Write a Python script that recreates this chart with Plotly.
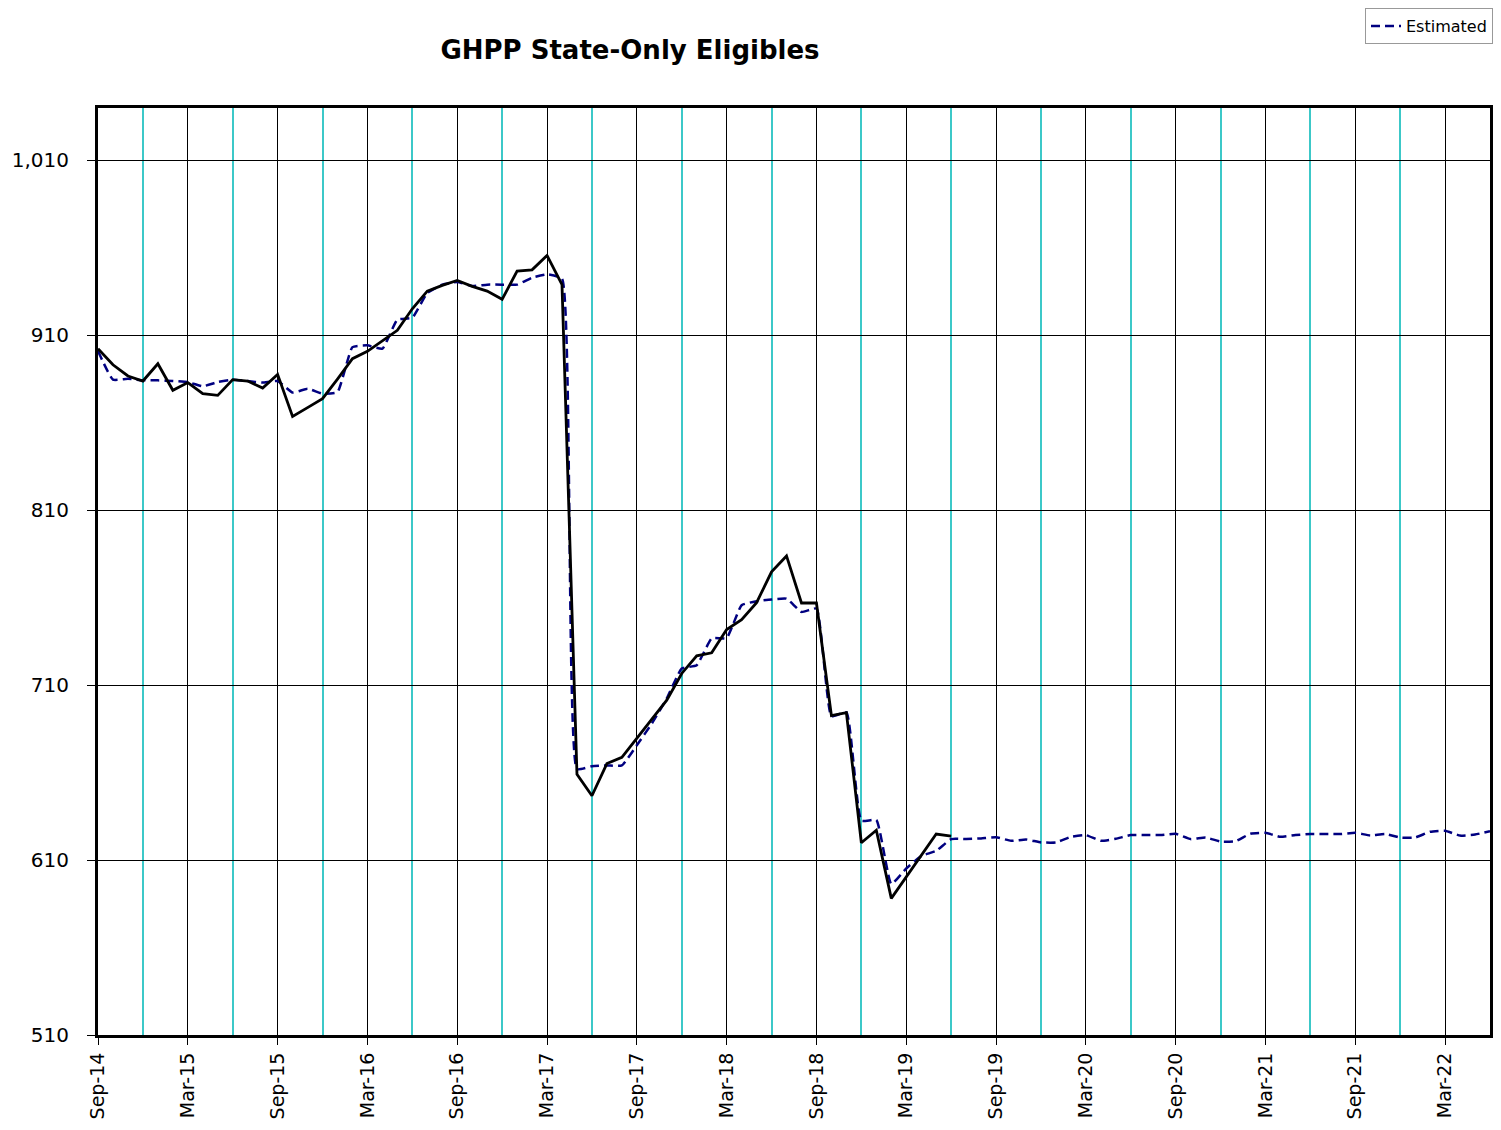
import pandas as pd
import plotly.graph_objects as go

# monthly values starting Sep-2014
actual = [902.4, 893.2, 886.8, 883.9, 893.8, 878.6, 883.0, 876.7, 875.7, 884.7,
          883.9, 879.9, 887.7, 863.7, 868.7, 873.8, 885.0, 896.7, 900.9, 907.1,
          912.9, 925.2, 935.3, 938.6, 941.4, 938.0, 935.3, 930.6, 946.8, 947.5,
          955.7, 939.0, 659.0, 646.8, 665.2, 668.7, 679.5, 690.0, 701.4, 716.7,
          726.8, 728.5, 741.8, 747.5, 757.2, 774.8, 783.9, 757.0, 757.0, 692.6,
          694.3, 619.9, 627.1, 588.1, 600.5, 612.8, 624.9, 623.7]

estimated = [901.0, 884.7, 885.2, 884.3, 884.3, 883.9, 883.3, 880.9, 883.3, 884.7,
             883.9, 883.0, 883.9, 877.3, 879.5, 876.7, 877.6, 903.3, 904.3, 902.4,
             919.0, 920.1, 934.2, 939.0, 940.5, 938.2, 939.0, 939.0, 939.0, 943.0,
             944.9, 942.4, 662.0, 663.7, 664.1, 664.1, 675.7, 688.1, 702.4, 719.5,
             721.4, 736.7, 737.0, 755.7, 758.0, 759.0, 759.5, 751.9, 753.8, 692.3,
             694.5, 632.5, 632.9, 596.3, 605.2, 612.3, 615.3, 622.0, 622.0, 622.4,
             623.1, 621.0, 621.8, 620.1, 620.1, 623.3, 624.3, 621.0, 622.2, 624.3,
             624.3, 624.3, 625.0, 622.0, 622.9, 620.6, 620.8, 625.1, 625.6, 623.3,
             624.3, 624.9, 624.9, 624.9, 625.6, 624.1, 624.9, 622.9, 622.9, 626.2,
             626.8, 624.0, 624.6, 626.5]

months = pd.date_range("2014-09-01", periods=len(estimated), freq="MS")
month_labels = [m.strftime("%b-%y") for m in months]
idx = list(range(len(months)))
tick_idx = idx[::6]
tick_text = month_labels[::6]

font = "DejaVu Sans, Verdana, sans-serif"
cyan = "#3cc8c8"

# page body has an 8px margin, so the figure is sized to fit inside the window
W, H = 1485, 1114

fig = go.Figure()
fig.add_trace(go.Scatter(x=idx, y=estimated, mode="lines", name="Estimated",
                         line=dict(color="#000080", width=2.5, dash="9px,5px",
                                   shape="spline", smoothing=0.4)))
fig.add_trace(go.Scatter(x=idx[:len(actual)], y=actual, mode="lines", name="Actual",
                         showlegend=False, line=dict(color="black", width=2.8)))

fig.update_layout(
    width=W, height=H,
    margin=dict(l=90, r=3, t=100, b=87, autoexpand=False),
    paper_bgcolor="white", plot_bgcolor="white",
    font=dict(family=font, color="black"),
    title=dict(text="<b>GHPP State-Only Eligibles</b>", font=dict(size=26),
               x=622 / W, xanchor="center", xref="container",
               y=1 - 42 / H, yanchor="middle", yref="container"),
    legend=dict(xref="container", yref="container", x=1, xanchor="right",
                y=1, yanchor="top", bordercolor="#999999", borderwidth=1,
                font=dict(size=16), bgcolor="white"),
)
fig.update_xaxes(
    range=[idx[0], idx[-1]],
    tickvals=tick_idx, ticktext=tick_text, tickangle=-90,
    tickfont=dict(size=19), ticks="outside", ticklen=7, tickcolor="black",
    showgrid=True, gridcolor="black", gridwidth=1,
    minor=dict(tick0=3, dtick=6, showgrid=True, gridcolor=cyan, gridwidth=1.5),
    showline=True, linecolor="black", linewidth=3, mirror=True, zeroline=False,
)
fig.update_yaxes(
    range=[510, 1040], tick0=510, dtick=100, tickformat=",",
    tickfont=dict(size=20), ticks="outside", ticklen=8, tickcolor="black",
    ticklabelstandoff=14,
    showgrid=True, gridcolor="black", gridwidth=1,
    showline=True, linecolor="black", linewidth=3, mirror=True, zeroline=False,
)

fig.write_html("out.html")
